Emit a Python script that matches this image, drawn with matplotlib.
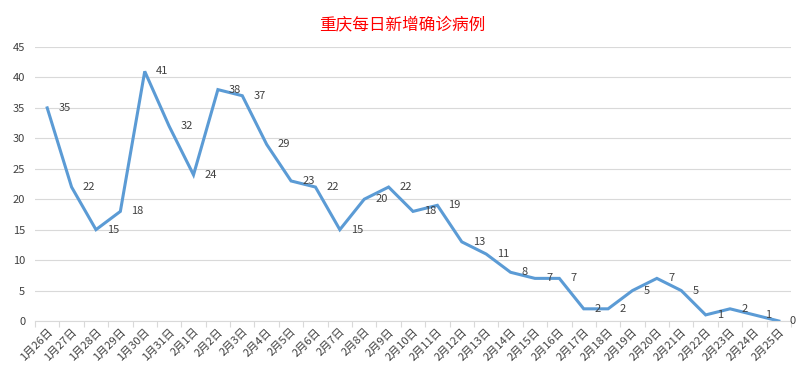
import matplotlib
matplotlib.use("Agg")
import matplotlib.pyplot as plt

plt.rcParams['font.family'] = ['Noto Sans CJK SC', 'DejaVu Sans']

dates = ['1月26日', '1月27日', '1月28日', '1月29日', '1月30日', '1月31日',
         '2月1日', '2月2日', '2月3日', '2月4日', '2月5日', '2月6日', '2月7日',
         '2月8日', '2月9日', '2月10日', '2月11日', '2月12日', '2月13日',
         '2月14日', '2月15日', '2月16日', '2月17日', '2月18日', '2月19日',
         '2月20日', '2月21日', '2月22日', '2月23日', '2月24日', '2月25日']
new_cases = [35, 22, 15, 18, 41, 32, 24, 38, 37, 29, 23, 22, 15, 20, 22, 18,
             19, 13, 11, 8, 7, 7, 2, 2, 5, 7, 5, 1, 2, 1, 0]
y_ticks = [0, 5, 10, 15, 20, 25, 30, 35, 40, 45]

text_color = '#404040'
line_color = '#5B9BD5'

fig = plt.figure(figsize=(8.04, 3.79), dpi=100)
ax = fig.add_axes([35 / 804, 58 / 379, 756 / 804, 274 / 379])

x = list(range(len(dates)))
ax.plot(x, new_cases, color=line_color, linewidth=2.2, solid_joinstyle='miter')

# data labels sit to the right of each point
for xi, v in zip(x, new_cases):
    ax.annotate(str(v), (xi, v), xytext=(8, 0), textcoords='offset points',
                ha='left', va='center', fontsize=8, color=text_color)

ax.set_xlim(-0.5, len(dates) - 0.5)
ax.set_ylim(0, 45)
ax.set_yticks(y_ticks)
# tick marks between categories, labels at the categories
ax.set_xticks([i - 0.5 for i in range(len(dates) + 1)], minor=False)
ax.set_xticklabels([])
ax.set_xticks(x, minor=True)
ax.set_xticklabels(dates, minor=True, rotation=45, ha='right',
                   rotation_mode='anchor', fontsize=8, color=text_color)
ax.tick_params(axis='x', which='minor', length=0, pad=4)
ax.tick_params(axis='x', which='major', length=4, color='#D9D9D9')
ax.tick_params(axis='y', length=0, labelsize=8, labelcolor=text_color, pad=7)

ax.grid(axis='y', color='#D9D9D9', linewidth=0.8)
ax.set_axisbelow(True)
for s in ['top', 'right', 'left']:
    ax.spines[s].set_visible(False)
ax.spines['bottom'].set_color('#D9D9D9')

fig.text(0.5, 1 - 25 / 379, '重庆每日新增确诊病例', ha='center', va='center',
         fontsize=12, color='#FF0000')

fig.savefig('out.png', dpi=100)
